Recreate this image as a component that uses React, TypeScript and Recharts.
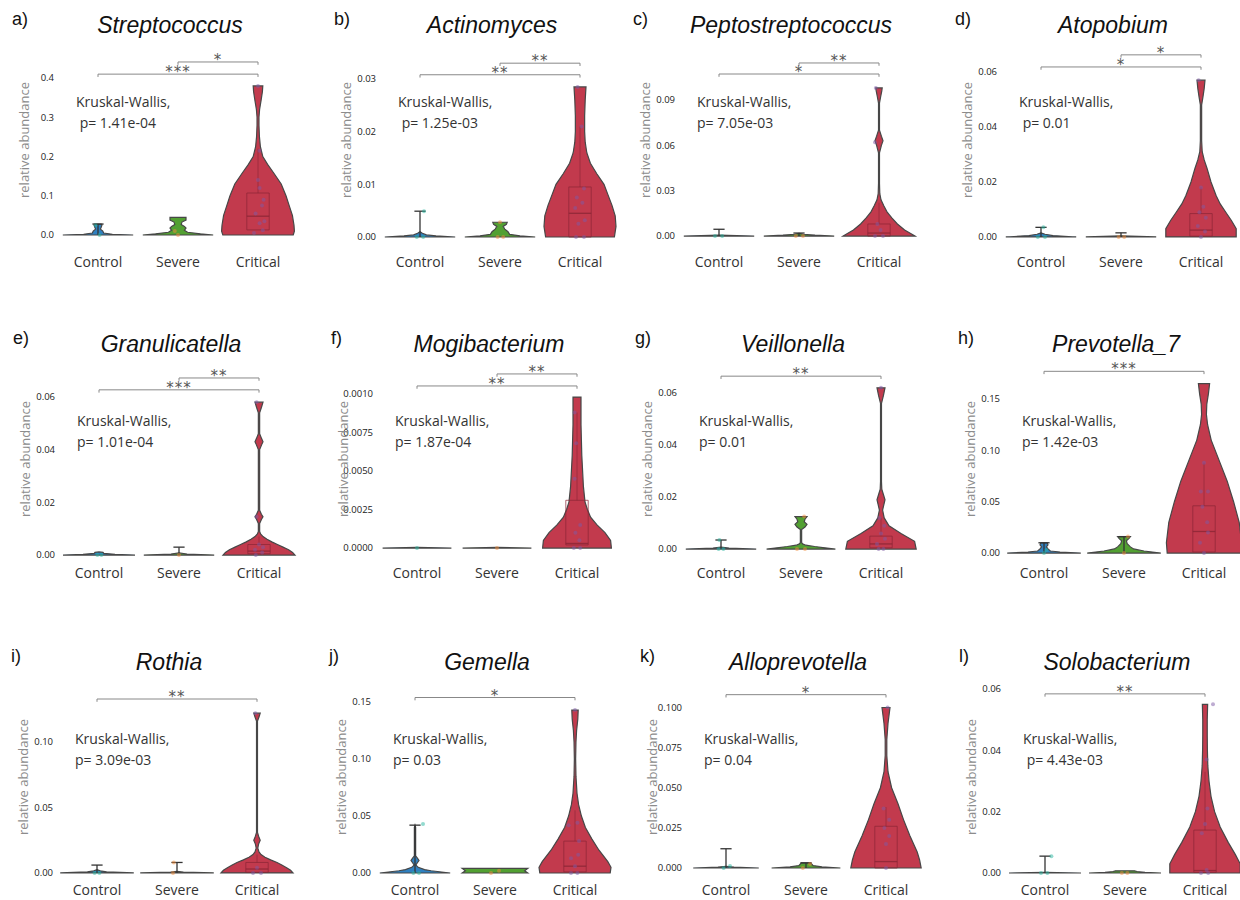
import { ComposedChart, Scatter, XAxis, YAxis } from "recharts";

type Profile = [number, number][]; // [value, half width in category units]
type Box = [number, number, number, number]; // q1, median, q3, upper whisker
type Bracket = [number, number, string]; // from group, level, stars (always to Critical)
type Dot = [number, number, number]; // group, jitter, value

const groups = ["Control", "Severe", "Critical"];
const groupColors = ["#2f80c0", "#52a032", "#c23a4d"];
const dotColors = ["#27b5a0", "#f28c3a", "#7d5aa6"];

// a) Streptococcus
const strepTicks = [0, 0.1, 0.2, 0.3, 0.4];
const strepTickLabels = ["0.0", "0.1", "0.2", "0.3", "0.4"];
const strepDomain: [number, number] = [-0.0127, 0.497];
const strepControl: Profile = [[0, 0.44], [0.002, 0.18], [0.005, 0.07], [0.01, 0.06], [0.015, 0.03], [0.02, 0.04], [0.026, 0.05], [0.028, 0.04]];
const strepSevere: Profile = [[0, 0.44], [0.003, 0.28], [0.007, 0.12], [0.012, 0.08], [0.018, 0.1], [0.022, 0.08], [0.027, 0.04], [0.033, 0.05], [0.038, 0.1], [0.045, 0.1]];
const strepCritical: Profile = [[0, 0.44], [0.01, 0.455], [0.025, 0.45], [0.05, 0.43], [0.075, 0.39], [0.1, 0.35], [0.13, 0.29], [0.16, 0.19], [0.18, 0.12], [0.2, 0.06], [0.225, 0.03], [0.25, 0.018], [0.28, 0.012], [0.3, 0.012], [0.32, 0.02], [0.345, 0.04], [0.365, 0.055], [0.38, 0.06]];
const strepWhiskers = [0.028, null];
const strepBox: Box = [0.013, 0.048, 0.107, 0.22];
const strepBrackets: Bracket[] = [[0, 0.41, "***"], [1, 0.441, "*"]];
const strepDots: Dot[] = [[0, 0.02, 0], [0, -0.03, 0.025], [1, 0, 0], [1, -0.04, 0.01], [2, -0.05, 0.005], [2, 0.06, 0.012], [2, 0.02, 0.03], [2, 0.08, 0.035], [2, -0.03, 0.055], [2, 0.05, 0.075], [2, 0.07, 0.09], [2, 0.02, 0.12], [2, 0, 0.14], [2, 0.02, 0.215], [2, 0, 0.38]];

// b) Actinomyces
const actiTicks = [0, 0.01, 0.02, 0.03];
const actiTickLabels = ["0.00", "0.01", "0.02", "0.03"];
const actiDomain: [number, number] = [-0.00057, 0.0374];
const actiControl: Profile = [[0, 0.44], [0.0002, 0.2], [0.0004, 0.08], [0.0007, 0.03], [0.001, 0]];
const actiSevere: Profile = [[0, 0.44], [0.0002, 0.25], [0.0005, 0.12], [0.001, 0.1], [0.0015, 0.06], [0.002, 0.04], [0.0024, 0.08], [0.0028, 0.09]];
const actiCritical: Profile = [[0, 0.43], [0.002, 0.45], [0.004, 0.44], [0.006, 0.4], [0.008, 0.35], [0.01, 0.3], [0.012, 0.21], [0.014, 0.13], [0.016, 0.085], [0.018, 0.065], [0.02, 0.058], [0.023, 0.058], [0.026, 0.065], [0.0285, 0.075]];
const actiWhiskers = [0.0049, null];
const actiBox: Box = [0, 0.0045, 0.0095, 0.021];
const actiBrackets: Bracket[] = [[0, 0.0308, "**"], [1, 0.033, "**"]];
const actiDots: Dot[] = [[0, -0.04, 0], [0, 0.04, 0], [0, 0.05, 0.0049], [1, -0.03, 0], [1, 0.04, 0], [1, 0, 0.0028], [2, -0.05, 0], [2, 0.05, 0], [2, -0.02, 0.0025], [2, 0.06, 0.0032], [2, -0.06, 0.0055], [2, 0.03, 0.0065], [2, -0.04, 0.0075], [2, 0.05, 0.0092], [2, 0.02, 0.021], [2, -0.03, 0.0285]];

// c) Peptostreptococcus
const peptoTicks = [0, 0.03, 0.06, 0.09];
const peptoTickLabels = ["0.00", "0.03", "0.06", "0.09"];
const peptoDomain: [number, number] = [-0.0026, 0.1297];
const peptoControl: Profile = [[0, 0.44], [0.0006, 0]];
const peptoSevere: Profile = [[0, 0.44], [0.0006, 0.2], [0.0012, 0.05], [0.0018, 0]];
const peptoCritical: Profile = [[0, 0.45], [0.004, 0.32], [0.008, 0.23], [0.012, 0.16], [0.016, 0.1], [0.02, 0.06], [0.024, 0.025], [0.028, 0.01], [0.035, 0.006], [0.055, 0.006], [0.06, 0.03], [0.063, 0.05], [0.066, 0.03], [0.07, 0.006], [0.088, 0.006], [0.092, 0.02], [0.096, 0.035], [0.098, 0.04]];
const peptoWhiskers = [0.0045, 0.002];
const peptoBox: Box = [0, 0.002, 0.008, 0.022];
const peptoBrackets: Bracket[] = [[0, 0.1072, "*"], [1, 0.1145, "**"]];
const peptoDots: Dot[] = [[0, -0.05, 0], [0, 0.04, 0], [1, -0.04, 0], [1, 0.05, 0], [2, -0.05, 0], [2, 0.05, 0], [2, 0.02, 0.004], [2, -0.02, 0.008], [2, -0.05, 0.062], [2, -0.04, 0.098]];

// d) Atopobium
const atopoTicks = [0, 0.02, 0.04, 0.06];
const atopoTickLabels = ["0.00", "0.02", "0.04", "0.06"];
const atopoDomain: [number, number] = [-0.0011, 0.0716];
const atopoControl: Profile = [[0, 0.44], [0.0005, 0.15], [0.001, 0.05], [0.0015, 0]];
const atopoSevere: Profile = [[0, 0.44], [0.0004, 0]];
const atopoCritical: Profile = [[0, 0.44], [0.003, 0.44], [0.006, 0.38], [0.009, 0.31], [0.012, 0.24], [0.015, 0.19], [0.02, 0.125], [0.025, 0.075], [0.028, 0.04], [0.031, 0.015], [0.035, 0.008], [0.048, 0.008], [0.051, 0.025], [0.054, 0.04], [0.057, 0.05]];
const atopoWhiskers = [0.0035, 0.0015];
const atopoBox: Box = [0.0003, 0.0025, 0.0085, 0.018];
const atopoBrackets: Bracket[] = [[0, 0.0618, "*"], [1, 0.0662, "*"]];
const atopoDots: Dot[] = [[0, -0.04, 0], [0, 0.05, 0], [0, 0.03, 0.0035], [1, -0.03, 0], [1, 0.04, 0], [2, 0, 0], [2, 0.05, 0.002], [2, -0.04, 0.004], [2, 0.06, 0.007], [2, -0.02, 0.009], [2, 0.03, 0.011], [2, 0, 0.018], [2, -0.03, 0.057]];

// e) Granulicatella
const granuTicks = [0, 0.02, 0.04, 0.06];
const granuTickLabels = ["0.00", "0.02", "0.04", "0.06"];
const granuDomain: [number, number] = [-0.0015, 0.0744];
const granuControl: Profile = [[0, 0.45], [0.0003, 0.2], [0.0006, 0.06], [0.001, 0.05], [0.0012, 0]];
const granuSevere: Profile = [[0, 0.44], [0.0004, 0.1], [0.0008, 0]];
const granuCritical: Profile = [[0, 0.45], [0.001, 0.42], [0.002, 0.37], [0.003, 0.3], [0.004, 0.23], [0.005, 0.16], [0.006, 0.1], [0.007, 0.05], [0.008, 0.02], [0.009, 0.008], [0.012, 0.008], [0.0135, 0.03], [0.0145, 0.05], [0.0155, 0.03], [0.017, 0.008], [0.04, 0.008], [0.042, 0.035], [0.043, 0.05], [0.044, 0.035], [0.046, 0.008], [0.054, 0.008], [0.056, 0.03], [0.058, 0.05]];
const granuWhiskers = [null, 0.003];
const granuBox: Box = [0.0005, 0.0015, 0.004, 0.007];
const granuBrackets: Bracket[] = [[0, 0.0627, "***"], [1, 0.0672, "**"]];
const granuDots: Dot[] = [[0, -0.02, 0], [0, 0.03, 0], [1, 0, 0], [2, -0.04, 0], [2, 0.04, 0.001], [2, -0.05, 0.002], [2, 0.05, 0.003], [2, 0, 0.004], [2, -0.03, 0.0145], [2, -0.03, 0.058]];

// f) Mogibacterium
const mogiTicks = [0, 0.0025, 0.005, 0.0075, 0.01];
const mogiTickLabels = ["0.0000", "0.0025", "0.0050", "0.0075", "0.0010"];
const mogiDomain: [number, number] = [-0.00071, 0.01227];
const mogiControl: Profile = [[0, 0.43], [0.00004, 0]];
const mogiSevere: Profile = [[0, 0.43], [0.00004, 0]];
const mogiCritical: Profile = [[0, 0.43], [0.0005, 0.42], [0.001, 0.35], [0.0015, 0.25], [0.002, 0.17], [0.0025, 0.13], [0.003, 0.1], [0.004, 0.08], [0.005, 0.07], [0.006, 0.06], [0.007, 0.055], [0.008, 0.05], [0.009, 0.05], [0.0098, 0.05]];
const mogiWhiskers = [null, null];
const mogiBox: Box = [0.0002, 0.0003, 0.0031, 0.0088];
const mogiBrackets: Bracket[] = [[0, 0.01052, "**"], [1, 0.0113, "**"]];
const mogiDots: Dot[] = [[0, 0, 0], [1, 0, 0], [2, -0.04, 0], [2, 0.04, 0], [2, 0.03, 0.0005], [2, -0.02, 0.001], [2, 0.04, 0.0015], [2, -0.03, 0.0045], [2, -0.01, 0.0068], [2, -0.03, 0.0088]];

// g) Veillonella
const veilTicks = [0, 0.02, 0.04, 0.06];
const veilTickLabels = ["0.00", "0.02", "0.04", "0.06"];
const veilDomain: [number, number] = [-0.0038, 0.0731];
const veilControl: Profile = [[0, 0.44], [0.0004, 0.1], [0.0008, 0]];
const veilSevere: Profile = [[0, 0.43], [0.0005, 0.3], [0.001, 0.17], [0.0015, 0.06], [0.002, 0.02], [0.0025, 0.008], [0.0075, 0.008], [0.0085, 0.05], [0.0095, 0.075], [0.0105, 0.04], [0.0115, 0.05], [0.0125, 0.075]];
const veilCritical: Profile = [[0, 0.44], [0.003, 0.42], [0.006, 0.25], [0.009, 0.1], [0.012, 0.04], [0.015, 0.02], [0.017, 0.035], [0.019, 0.05], [0.021, 0.03], [0.023, 0.01], [0.026, 0.006], [0.056, 0.006], [0.059, 0.03], [0.062, 0.05]];
const veilWhiskers = [0.0035, null];
const veilBox: Box = [0.0005, 0.002, 0.005, 0.012];
const veilBrackets: Bracket[] = [[0, 0.0665, "**"]];
const veilDots: Dot[] = [[0, -0.03, 0], [0, 0.03, 0], [0, -0.02, 0.0035], [1, -0.05, 0], [1, 0.05, 0], [1, 0.04, 0.0125], [2, -0.03, 0], [2, 0.03, 0], [2, -0.05, 0.002], [2, 0.05, 0.004], [2, 0, 0.006], [2, 0.04, 0.009], [2, -0.02, 0.012], [2, 0, 0.062]];

// h) Prevotella_7
const prevoTicks = [0, 0.05, 0.1, 0.15];
const prevoTickLabels = ["0.00", "0.05", "0.10", "0.15"];
const prevoDomain: [number, number] = [-0.0058, 0.189];
const prevoControl: Profile = [[0, 0.46], [0.001, 0.2], [0.002, 0.08], [0.004, 0.05], [0.006, 0.03], [0.008, 0.05], [0.01, 0.04]];
const prevoSevere: Profile = [[0, 0.46], [0.002, 0.25], [0.004, 0.12], [0.006, 0.08], [0.009, 0.04], [0.012, 0.03], [0.014, 0.06], [0.016, 0.08]];
const prevoCritical: Profile = [[0, 0.46], [0.01, 0.47], [0.03, 0.44], [0.05, 0.37], [0.07, 0.29], [0.09, 0.19], [0.11, 0.09], [0.125, 0.045], [0.135, 0.03], [0.145, 0.035], [0.155, 0.055], [0.165, 0.07]];
const prevoWhiskers = [0.01, 0.016];
const prevoBox: Box = [0.001, 0.021, 0.046, 0.088];
const prevoBrackets: Bracket[] = [[0, 0.177, "***"]];
const prevoDots: Dot[] = [[0, 0, 0], [0, 0.03, 0.003], [1, 0, 0], [1, 0.05, 0.016], [2, 0, 0], [2, -0.05, 0.01], [2, 0.05, 0.02], [2, 0.04, 0.03], [2, -0.02, 0.045], [2, 0.05, 0.06], [2, -0.04, 0.06], [2, 0, 0.088]];

// i) Rothia
const rothTicks = [0, 0.05, 0.1];
const rothTickLabels = ["0.00", "0.05", "0.10"];
const rothDomain: [number, number] = [-0.0031, 0.1496];
const rothControl: Profile = [[0, 0.46], [0.0008, 0.12], [0.0016, 0.04], [0.0025, 0]];
const rothSevere: Profile = [[0, 0.46], [0.0006, 0.08], [0.0012, 0]];
const rothCritical: Profile = [[0, 0.45], [0.002, 0.42], [0.004, 0.37], [0.006, 0.31], [0.008, 0.25], [0.01, 0.17], [0.012, 0.1], [0.014, 0.05], [0.016, 0.025], [0.019, 0.01], [0.022, 0.02], [0.025, 0.04], [0.028, 0.02], [0.031, 0.006], [0.116, 0.006], [0.119, 0.025], [0.122, 0.04]];
const rothWhiskers = [0.006, 0.008];
const rothBox: Box = [0.0005, 0.003, 0.008, 0.014];
const rothBrackets: Bracket[] = [[0, 0.1328, "**"]];
const rothDots: Dot[] = [[0, -0.03, 0], [0, 0.03, 0], [1, -0.05, 0], [1, -0.04, 0.008], [2, -0.05, 0], [2, 0.05, 0], [2, 0, 0.004], [2, -0.02, 0.122]];

// j) Gemella
const gemTicks = [0, 0.05, 0.1, 0.15];
const gemTickLabels = ["0.00", "0.05", "0.10", "0.15"];
const gemDomain: [number, number] = [-0.0035, 0.172];
const gemControl: Profile = [[0, 0.44], [0.002, 0.2], [0.003, 0.12], [0.005, 0.04], [0.007, 0.01], [0.009, 0.03], [0.011, 0.05], [0.013, 0.03], [0.015, 0.008], [0.04, 0.008], [0.042, 0]];
const gemSevere: Profile = [[0, 0.41], [0.002, 0.37], [0.004, 0.41]];
const gemCritical: Profile = [[0, 0.44], [0.005, 0.45], [0.01, 0.41], [0.02, 0.3], [0.03, 0.21], [0.04, 0.13], [0.05, 0.08], [0.06, 0.045], [0.07, 0.025], [0.085, 0.012], [0.1, 0.008], [0.115, 0.012], [0.125, 0.02], [0.135, 0.035], [0.143, 0.04]];
const gemWhiskers = [0.042, null];
const gemBox: Box = [0.001, 0.006, 0.028, 0.055];
const gemBrackets: Bracket[] = [[0, 0.154, "*"]];
const gemDots: Dot[] = [[0, -0.02, 0], [0, 0.05, 0], [0, 0.1, 0.043], [1, -0.05, 0], [1, 0.05, 0.002], [2, -0.05, 0], [2, 0.03, 0], [2, 0, 0.006], [2, -0.05, 0.013], [2, 0.04, 0.016], [2, 0.05, 0.028], [2, -0.08, 0.042], [2, 0.03, 0.044], [2, 0, 0.143]];

// k) Alloprevotella
const alloTicks = [0, 0.025, 0.05, 0.075, 0.1];
const alloTickLabels = ["0.000", "0.025", "0.050", "0.075", "0.100"];
const alloDomain: [number, number] = [-0.0056, 0.119];
const alloControl: Profile = [[0, 0.41], [0.0005, 0.1], [0.001, 0]];
const alloSevere: Profile = [[0, 0.43], [0.0007, 0.2], [0.0015, 0.09], [0.0025, 0.07], [0.0032, 0.06]];
const alloCritical: Profile = [[0, 0.44], [0.005, 0.42], [0.01, 0.39], [0.02, 0.3], [0.03, 0.22], [0.04, 0.15], [0.05, 0.07], [0.06, 0.025], [0.07, 0.01], [0.08, 0.01], [0.09, 0.025], [0.1, 0.05]];
const alloWhiskers = [0.012, 0.0032];
const alloBox: Box = [0, 0.004, 0.026, 0.038];
const alloBrackets: Bracket[] = [[0, 0.108, "*"]];
const alloDots: Dot[] = [[0, -0.03, 0], [0, 0.05, 0.0012], [1, -0.04, 0], [1, 0.05, 0.0025], [2, 0, 0], [2, 0, 0.015], [2, 0.04, 0.02], [2, -0.02, 0.025], [2, 0.04, 0.03], [2, -0.03, 0.037], [2, 0.02, 0.1]];

// l) Solobacterium
const soloTicks = [0, 0.02, 0.04, 0.06];
const soloTickLabels = ["0.00", "0.02", "0.04", "0.06"];
const soloDomain: [number, number] = [-0.0013, 0.0639];
const soloControl: Profile = [[0, 0.45], [0.0002, 0]];
const soloSevere: Profile = [[0, 0.45], [0.0002, 0.25], [0.0005, 0.15], [0.0007, 0.12]];
const soloCritical: Profile = [[0, 0.44], [0.003, 0.44], [0.006, 0.38], [0.01, 0.29], [0.015, 0.19], [0.02, 0.12], [0.025, 0.075], [0.03, 0.05], [0.035, 0.035], [0.04, 0.03], [0.045, 0.028], [0.05, 0.028], [0.055, 0.033]];
const soloWhiskers = [0.0055, null];
const soloBox: Box = [0.0002, 0.0008, 0.014, 0.033];
const soloBrackets: Bracket[] = [[0, 0.0584, "**"]];
const soloDots: Dot[] = [[0, -0.05, 0], [0, 0.03, 0], [0, 0.08, 0.0055], [1, -0.04, 0], [1, 0.03, 0], [2, -0.05, 0], [2, 0.04, 0], [2, 0.02, 0.001], [2, -0.04, 0.013], [2, 0, 0.016], [2, 0.03, 0.021], [2, 0.02, 0.037], [2, 0.1, 0.055]];

type Spec = {
  tag: string; title: string; p: string;
  ticks: number[]; tickLabels: string[]; domain: [number, number];
  violins: Profile[]; whiskers: (number | null)[]; box: Box; brackets: Bracket[]; dots: Dot[];
};

const panels: Spec[] = [
  { tag: "a)", title: "Streptococcus", p: " p= 1.41e-04", ticks: strepTicks, tickLabels: strepTickLabels, domain: strepDomain, violins: [strepControl, strepSevere, strepCritical], whiskers: strepWhiskers, box: strepBox, brackets: strepBrackets, dots: strepDots },
  { tag: "b)", title: "Actinomyces", p: " p= 1.25e-03", ticks: actiTicks, tickLabels: actiTickLabels, domain: actiDomain, violins: [actiControl, actiSevere, actiCritical], whiskers: actiWhiskers, box: actiBox, brackets: actiBrackets, dots: actiDots },
  { tag: "c)", title: "Peptostreptococcus", p: "p= 7.05e-03", ticks: peptoTicks, tickLabels: peptoTickLabels, domain: peptoDomain, violins: [peptoControl, peptoSevere, peptoCritical], whiskers: peptoWhiskers, box: peptoBox, brackets: peptoBrackets, dots: peptoDots },
  { tag: "d)", title: "Atopobium", p: " p= 0.01", ticks: atopoTicks, tickLabels: atopoTickLabels, domain: atopoDomain, violins: [atopoControl, atopoSevere, atopoCritical], whiskers: atopoWhiskers, box: atopoBox, brackets: atopoBrackets, dots: atopoDots },
  { tag: "e)", title: "Granulicatella", p: "p= 1.01e-04", ticks: granuTicks, tickLabels: granuTickLabels, domain: granuDomain, violins: [granuControl, granuSevere, granuCritical], whiskers: granuWhiskers, box: granuBox, brackets: granuBrackets, dots: granuDots },
  { tag: "f)", title: "Mogibacterium", p: "p= 1.87e-04", ticks: mogiTicks, tickLabels: mogiTickLabels, domain: mogiDomain, violins: [mogiControl, mogiSevere, mogiCritical], whiskers: mogiWhiskers, box: mogiBox, brackets: mogiBrackets, dots: mogiDots },
  { tag: "g)", title: "Veillonella", p: "p= 0.01", ticks: veilTicks, tickLabels: veilTickLabels, domain: veilDomain, violins: [veilControl, veilSevere, veilCritical], whiskers: veilWhiskers, box: veilBox, brackets: veilBrackets, dots: veilDots },
  { tag: "h)", title: "Prevotella_7", p: "p= 1.42e-03", ticks: prevoTicks, tickLabels: prevoTickLabels, domain: prevoDomain, violins: [prevoControl, prevoSevere, prevoCritical], whiskers: prevoWhiskers, box: prevoBox, brackets: prevoBrackets, dots: prevoDots },
  { tag: "i)", title: "Rothia", p: "p= 3.09e-03", ticks: rothTicks, tickLabels: rothTickLabels, domain: rothDomain, violins: [rothControl, rothSevere, rothCritical], whiskers: rothWhiskers, box: rothBox, brackets: rothBrackets, dots: rothDots },
  { tag: "j)", title: "Gemella", p: "p= 0.03", ticks: gemTicks, tickLabels: gemTickLabels, domain: gemDomain, violins: [gemControl, gemSevere, gemCritical], whiskers: gemWhiskers, box: gemBox, brackets: gemBrackets, dots: gemDots },
  { tag: "k)", title: "Alloprevotella", p: "p= 0.04", ticks: alloTicks, tickLabels: alloTickLabels, domain: alloDomain, violins: [alloControl, alloSevere, alloCritical], whiskers: alloWhiskers, box: alloBox, brackets: alloBrackets, dots: alloDots },
  { tag: "l)", title: "Solobacterium", p: " p= 4.43e-03", ticks: soloTicks, tickLabels: soloTickLabels, domain: soloDomain, violins: [soloControl, soloSevere, soloCritical], whiskers: soloWhiskers, box: soloBox, brackets: soloBrackets, dots: soloDots },
];

// where each panel sits on the page
const panelLeft = [0, 322, 621, 943, 1, 319, 623, 946, -1, 317, 628, 947];
const rowTop = [0, 319, 637];
const rowTickMargin = [17, 9, 8];

const W = 320;
const H = 290;
const font = "'Open Sans', sans-serif";
const titleFont = "'Liberation Sans', Arial, sans-serif";
const boxColor = "#8a2535";

const blank = () => <g />;

const outline = (i: number, prof: Profile) => [
  ...prof.map(([v, w]) => ({ x: i + w, y: v })),
  ...prof.slice().reverse().map(([v, w]) => ({ x: i - w, y: v })),
];

const seg = (x1: number, y1: number, x2: number, y2: number) => [{ x: x1, y: y1 }, { x: x2, y: y2 }];

function Panel({ spec, left, top, row }: { spec: Spec; left: number; top: number; row: number }) {
  const [lo, hi] = spec.domain;
  const notch = (hi - lo) * 0.014;
  const [q1, med, q3, wh] = spec.box;
  const bw = 0.14;
  return (
    <div style={{ position: "absolute", left, top, width: W, height: H }}>
      <div style={{ position: "absolute", left: 12, top: 8, fontSize: 18, lineHeight: "22px", fontFamily: titleFont, color: "#111" }}>{spec.tag}</div>
      <div style={{ position: "absolute", left: 0, width: 340, top: 11, textAlign: "center", fontSize: 23, lineHeight: "28px", fontStyle: "italic", fontFamily: titleFont, color: "#111" }}>{spec.title}</div>
      <ComposedChart width={W} height={H} margin={{ top: 40, right: 22, bottom: 0, left: 0 }}>
        <XAxis type="number" dataKey="x" domain={[-0.5, 2.5]} allowDataOverflow ticks={[0, 1, 2]} interval={0}
          tickFormatter={(v: number) => groups[v]} axisLine={false} tickLine={false} tickSize={0}
          tickMargin={rowTickMargin[row]} height={50} tick={{ fontSize: 14, fill: "#333", fontFamily: font }} />
        <YAxis type="number" dataKey="y" domain={spec.domain} allowDataOverflow ticks={spec.ticks} interval={0}
          tickFormatter={(v: number) => spec.tickLabels[spec.ticks.indexOf(v)]} width={58} axisLine={false}
          tickLine={false} tickSize={0} tickMargin={4} tick={{ fontSize: 9.5, fill: "#222", fontFamily: font }}
          label={{ value: "relative abundance", angle: -90, position: "insideLeft", offset: 24, style: { textAnchor: "middle", fill: "#8c8c8c", fontSize: 13, fontFamily: font } }} />
        {spec.violins.map((prof, i) => (
          <Scatter key={"v" + i} data={outline(i, prof)} line={{ stroke: "#474747", strokeWidth: 1.2, fill: groupColors[i], fillOpacity: 1 }}
            lineJointType="linearClosed" shape={blank} isAnimationActive={false} />
        ))}
        <Scatter data={[{ x: 2 - bw, y: q1 }, { x: 2 + bw, y: q1 }, { x: 2 + bw, y: q3 }, { x: 2 - bw, y: q3 }]}
          line={{ stroke: boxColor, strokeWidth: 1, strokeOpacity: 0.7, fill: "none" }} lineJointType="linearClosed" shape={blank} isAnimationActive={false} />
        <Scatter data={seg(2 - bw, med, 2 + bw, med)} line={{ stroke: boxColor, strokeWidth: 1.3, strokeOpacity: 0.8 }} shape={blank} isAnimationActive={false} />
        <Scatter data={seg(2, q3, 2, wh)} line={{ stroke: boxColor, strokeWidth: 1, strokeOpacity: 0.6 }} shape={blank} isAnimationActive={false} />
        {spec.whiskers.map((w, i) => w == null ? null : (
          <Scatter key={"w" + i} data={seg(i, 0, i, w)} line={{ stroke: "#333", strokeWidth: 1.3 }} shape={blank} isAnimationActive={false} />
        ))}
        {spec.whiskers.map((w, i) => w == null ? null : (
          <Scatter key={"c" + i} data={seg(i - 0.07, w, i + 0.07, w)} line={{ stroke: "#333", strokeWidth: 1.3 }} shape={blank} isAnimationActive={false} />
        ))}
        {[0, 1, 2].map((g) => (
          <Scatter key={"d" + g} data={spec.dots.filter((d) => d[0] === g).map(([, dx, v]) => ({ x: g + dx, y: v }))}
            fill={dotColors[g]} isAnimationActive={false}
            shape={(p: any) => <circle cx={p.cx} cy={p.cy} r={2} fill={dotColors[g]} fillOpacity={0.5} />} />
        ))}
        {spec.brackets.map(([from, lvl], k) => (
          <Scatter key={"b" + k} data={[{ x: from, y: lvl - notch }, { x: from, y: lvl }, { x: 2, y: lvl }, { x: 2, y: lvl - notch }]}
            line={{ stroke: "#888", strokeWidth: 1 }} shape={blank} isAnimationActive={false} />
        ))}
        {spec.brackets.map(([from, lvl, stars], k) => (
          <Scatter key={"s" + k} data={[{ x: (from + 2) / 2, y: lvl }]} isAnimationActive={false}
            shape={(p: any) => (
              <text x={p.cx} y={p.cy + 3} textAnchor="middle" fontSize={15} fill="#555" fontFamily="'DejaVu Sans', sans-serif" letterSpacing={1}>{stars}</text>
            )} />
        ))}
      </ComposedChart>
      <div style={{ position: "absolute", left: 76, top: 91, fontSize: 14, lineHeight: "21px", fontFamily: font, color: "#333", whiteSpace: "pre" }}>
        {"Kruskal-Wallis,\n" + spec.p}
      </div>
    </div>
  );
}

export default function App() {
  return (
    <div style={{ position: "absolute", left: 0, top: 0, width: 1240, height: 900, overflow: "hidden", background: "#fff" }}>
      {panels.map((spec, i) => (
        <Panel key={spec.tag} spec={spec} left={panelLeft[i]} top={rowTop[Math.floor(i / 4)]} row={Math.floor(i / 4)} />
      ))}
    </div>
  );
}
